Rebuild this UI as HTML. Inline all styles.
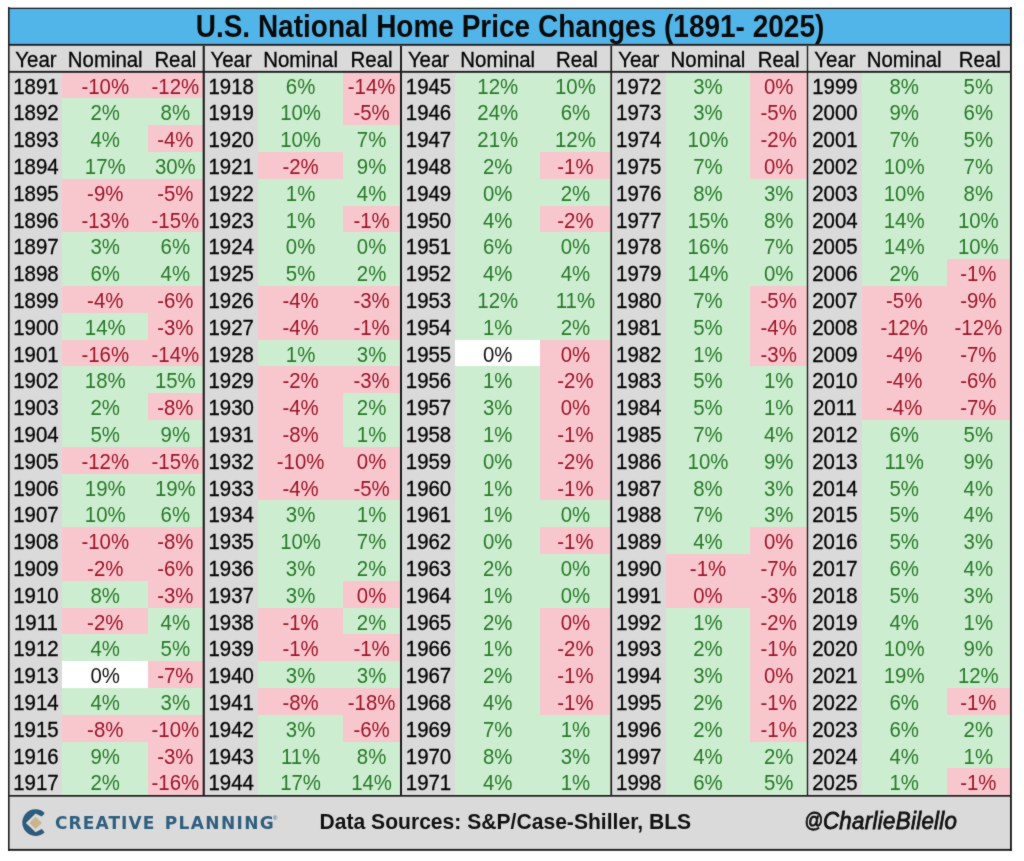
<!DOCTYPE html>
<html><head><meta charset="utf-8"><title>U.S. National Home Price Changes (1891- 2025)</title>
<style>
html,body{margin:0;padding:0;background:#fff}
body{width:1024px;height:861px;position:relative;overflow:hidden;font-family:"Liberation Sans",Arial,sans-serif}
#wrap{position:absolute;left:0;top:0;width:1024px;height:861px;filter:url(#soft)}
.b{position:absolute}
.k{-webkit-text-stroke-width:0.3px}
.t{position:absolute;text-align:center;white-space:nowrap;font-size:20.4px;line-height:20px;height:20px;color:#050505;transform:scaleY(1.065);transform-origin:50% 17.07px}
#bg{position:absolute;left:8px;top:8px;width:1004px;height:843px;background:#dadada}
#title{position:absolute;left:8px;top:9px;width:1004px;height:36px;background:#52b5e9}
#tt{position:absolute;left:8px;width:1004px;top:13.29px;text-align:center;font-weight:bold;font-size:28px;line-height:30px;height:30px;color:#0a0a0a;transform:scaleY(1.09);transform-origin:50% 24.71px;white-space:nowrap}
.ft{position:absolute;white-space:nowrap;line-height:24px;height:24px}
</style></head>
<body>
<svg width="0" height="0" style="position:absolute"><filter id="soft" x="0" y="0" width="100%" height="100%" color-interpolation-filters="sRGB"><feConvolveMatrix order="3" kernelMatrix="0.02 0.07 0.02 0.07 0.64 0.07 0.02 0.07 0.02" divisor="1" edgeMode="duplicate"/></filter></svg>
<div id="wrap">
<div id="bg"></div>
<div id="title"></div>
<div id="tt">U.S. National Home Price Changes (1891- 2025)</div>
<div class="b" style="left:62px;top:72px;width:86px;height:26px;background:#f8c7ce"></div>
<div class="b" style="left:148px;top:72px;width:55px;height:26px;background:#f8c7ce"></div>
<div class="b" style="left:62px;top:98px;width:86px;height:27px;background:#cdedd1"></div>
<div class="b" style="left:148px;top:98px;width:55px;height:27px;background:#cdedd1"></div>
<div class="b" style="left:62px;top:125px;width:86px;height:27px;background:#cdedd1"></div>
<div class="b" style="left:148px;top:125px;width:55px;height:27px;background:#f8c7ce"></div>
<div class="b" style="left:62px;top:152px;width:86px;height:27px;background:#cdedd1"></div>
<div class="b" style="left:148px;top:152px;width:55px;height:27px;background:#cdedd1"></div>
<div class="b" style="left:62px;top:179px;width:86px;height:27px;background:#f8c7ce"></div>
<div class="b" style="left:148px;top:179px;width:55px;height:27px;background:#f8c7ce"></div>
<div class="b" style="left:62px;top:206px;width:86px;height:26px;background:#f8c7ce"></div>
<div class="b" style="left:148px;top:206px;width:55px;height:26px;background:#f8c7ce"></div>
<div class="b" style="left:62px;top:232px;width:86px;height:27px;background:#cdedd1"></div>
<div class="b" style="left:148px;top:232px;width:55px;height:27px;background:#cdedd1"></div>
<div class="b" style="left:62px;top:259px;width:86px;height:27px;background:#cdedd1"></div>
<div class="b" style="left:148px;top:259px;width:55px;height:27px;background:#cdedd1"></div>
<div class="b" style="left:62px;top:286px;width:86px;height:27px;background:#f8c7ce"></div>
<div class="b" style="left:148px;top:286px;width:55px;height:27px;background:#f8c7ce"></div>
<div class="b" style="left:62px;top:313px;width:86px;height:27px;background:#cdedd1"></div>
<div class="b" style="left:148px;top:313px;width:55px;height:27px;background:#f8c7ce"></div>
<div class="b" style="left:62px;top:340px;width:86px;height:26px;background:#f8c7ce"></div>
<div class="b" style="left:148px;top:340px;width:55px;height:26px;background:#f8c7ce"></div>
<div class="b" style="left:62px;top:366px;width:86px;height:27px;background:#cdedd1"></div>
<div class="b" style="left:148px;top:366px;width:55px;height:27px;background:#cdedd1"></div>
<div class="b" style="left:62px;top:393px;width:86px;height:27px;background:#cdedd1"></div>
<div class="b" style="left:148px;top:393px;width:55px;height:27px;background:#f8c7ce"></div>
<div class="b" style="left:62px;top:420px;width:86px;height:27px;background:#cdedd1"></div>
<div class="b" style="left:148px;top:420px;width:55px;height:27px;background:#cdedd1"></div>
<div class="b" style="left:62px;top:447px;width:86px;height:27px;background:#f8c7ce"></div>
<div class="b" style="left:148px;top:447px;width:55px;height:27px;background:#f8c7ce"></div>
<div class="b" style="left:62px;top:474px;width:86px;height:26px;background:#cdedd1"></div>
<div class="b" style="left:148px;top:474px;width:55px;height:26px;background:#cdedd1"></div>
<div class="b" style="left:62px;top:500px;width:86px;height:27px;background:#cdedd1"></div>
<div class="b" style="left:148px;top:500px;width:55px;height:27px;background:#cdedd1"></div>
<div class="b" style="left:62px;top:527px;width:86px;height:27px;background:#f8c7ce"></div>
<div class="b" style="left:148px;top:527px;width:55px;height:27px;background:#f8c7ce"></div>
<div class="b" style="left:62px;top:554px;width:86px;height:27px;background:#f8c7ce"></div>
<div class="b" style="left:148px;top:554px;width:55px;height:27px;background:#f8c7ce"></div>
<div class="b" style="left:62px;top:581px;width:86px;height:27px;background:#cdedd1"></div>
<div class="b" style="left:148px;top:581px;width:55px;height:27px;background:#f8c7ce"></div>
<div class="b" style="left:62px;top:608px;width:86px;height:26px;background:#f8c7ce"></div>
<div class="b" style="left:148px;top:608px;width:55px;height:26px;background:#cdedd1"></div>
<div class="b" style="left:62px;top:634px;width:86px;height:27px;background:#cdedd1"></div>
<div class="b" style="left:148px;top:634px;width:55px;height:27px;background:#cdedd1"></div>
<div class="b" style="left:62px;top:661px;width:86px;height:27px;background:#ffffff"></div>
<div class="b" style="left:148px;top:661px;width:55px;height:27px;background:#f8c7ce"></div>
<div class="b" style="left:62px;top:688px;width:86px;height:27px;background:#cdedd1"></div>
<div class="b" style="left:148px;top:688px;width:55px;height:27px;background:#cdedd1"></div>
<div class="b" style="left:62px;top:715px;width:86px;height:27px;background:#f8c7ce"></div>
<div class="b" style="left:148px;top:715px;width:55px;height:27px;background:#f8c7ce"></div>
<div class="b" style="left:62px;top:742px;width:86px;height:26px;background:#cdedd1"></div>
<div class="b" style="left:148px;top:742px;width:55px;height:26px;background:#f8c7ce"></div>
<div class="b" style="left:62px;top:768px;width:86px;height:27px;background:#cdedd1"></div>
<div class="b" style="left:148px;top:768px;width:55px;height:27px;background:#f8c7ce"></div>
<div class="b" style="left:258px;top:72px;width:85px;height:26px;background:#cdedd1"></div>
<div class="b" style="left:343px;top:72px;width:57px;height:26px;background:#f8c7ce"></div>
<div class="b" style="left:258px;top:98px;width:85px;height:27px;background:#cdedd1"></div>
<div class="b" style="left:343px;top:98px;width:57px;height:27px;background:#f8c7ce"></div>
<div class="b" style="left:258px;top:125px;width:85px;height:27px;background:#cdedd1"></div>
<div class="b" style="left:343px;top:125px;width:57px;height:27px;background:#cdedd1"></div>
<div class="b" style="left:258px;top:152px;width:85px;height:27px;background:#f8c7ce"></div>
<div class="b" style="left:343px;top:152px;width:57px;height:27px;background:#cdedd1"></div>
<div class="b" style="left:258px;top:179px;width:85px;height:27px;background:#cdedd1"></div>
<div class="b" style="left:343px;top:179px;width:57px;height:27px;background:#cdedd1"></div>
<div class="b" style="left:258px;top:206px;width:85px;height:26px;background:#cdedd1"></div>
<div class="b" style="left:343px;top:206px;width:57px;height:26px;background:#f8c7ce"></div>
<div class="b" style="left:258px;top:232px;width:85px;height:27px;background:#cdedd1"></div>
<div class="b" style="left:343px;top:232px;width:57px;height:27px;background:#cdedd1"></div>
<div class="b" style="left:258px;top:259px;width:85px;height:27px;background:#cdedd1"></div>
<div class="b" style="left:343px;top:259px;width:57px;height:27px;background:#cdedd1"></div>
<div class="b" style="left:258px;top:286px;width:85px;height:27px;background:#f8c7ce"></div>
<div class="b" style="left:343px;top:286px;width:57px;height:27px;background:#f8c7ce"></div>
<div class="b" style="left:258px;top:313px;width:85px;height:27px;background:#f8c7ce"></div>
<div class="b" style="left:343px;top:313px;width:57px;height:27px;background:#f8c7ce"></div>
<div class="b" style="left:258px;top:340px;width:85px;height:26px;background:#cdedd1"></div>
<div class="b" style="left:343px;top:340px;width:57px;height:26px;background:#cdedd1"></div>
<div class="b" style="left:258px;top:366px;width:85px;height:27px;background:#f8c7ce"></div>
<div class="b" style="left:343px;top:366px;width:57px;height:27px;background:#f8c7ce"></div>
<div class="b" style="left:258px;top:393px;width:85px;height:27px;background:#f8c7ce"></div>
<div class="b" style="left:343px;top:393px;width:57px;height:27px;background:#cdedd1"></div>
<div class="b" style="left:258px;top:420px;width:85px;height:27px;background:#f8c7ce"></div>
<div class="b" style="left:343px;top:420px;width:57px;height:27px;background:#cdedd1"></div>
<div class="b" style="left:258px;top:447px;width:85px;height:27px;background:#f8c7ce"></div>
<div class="b" style="left:343px;top:447px;width:57px;height:27px;background:#f8c7ce"></div>
<div class="b" style="left:258px;top:474px;width:85px;height:26px;background:#f8c7ce"></div>
<div class="b" style="left:343px;top:474px;width:57px;height:26px;background:#f8c7ce"></div>
<div class="b" style="left:258px;top:500px;width:85px;height:27px;background:#cdedd1"></div>
<div class="b" style="left:343px;top:500px;width:57px;height:27px;background:#cdedd1"></div>
<div class="b" style="left:258px;top:527px;width:85px;height:27px;background:#cdedd1"></div>
<div class="b" style="left:343px;top:527px;width:57px;height:27px;background:#cdedd1"></div>
<div class="b" style="left:258px;top:554px;width:85px;height:27px;background:#cdedd1"></div>
<div class="b" style="left:343px;top:554px;width:57px;height:27px;background:#cdedd1"></div>
<div class="b" style="left:258px;top:581px;width:85px;height:27px;background:#cdedd1"></div>
<div class="b" style="left:343px;top:581px;width:57px;height:27px;background:#f8c7ce"></div>
<div class="b" style="left:258px;top:608px;width:85px;height:26px;background:#f8c7ce"></div>
<div class="b" style="left:343px;top:608px;width:57px;height:26px;background:#cdedd1"></div>
<div class="b" style="left:258px;top:634px;width:85px;height:27px;background:#f8c7ce"></div>
<div class="b" style="left:343px;top:634px;width:57px;height:27px;background:#f8c7ce"></div>
<div class="b" style="left:258px;top:661px;width:85px;height:27px;background:#cdedd1"></div>
<div class="b" style="left:343px;top:661px;width:57px;height:27px;background:#cdedd1"></div>
<div class="b" style="left:258px;top:688px;width:85px;height:27px;background:#f8c7ce"></div>
<div class="b" style="left:343px;top:688px;width:57px;height:27px;background:#f8c7ce"></div>
<div class="b" style="left:258px;top:715px;width:85px;height:27px;background:#cdedd1"></div>
<div class="b" style="left:343px;top:715px;width:57px;height:27px;background:#f8c7ce"></div>
<div class="b" style="left:258px;top:742px;width:85px;height:26px;background:#cdedd1"></div>
<div class="b" style="left:343px;top:742px;width:57px;height:26px;background:#cdedd1"></div>
<div class="b" style="left:258px;top:768px;width:85px;height:27px;background:#cdedd1"></div>
<div class="b" style="left:343px;top:768px;width:57px;height:27px;background:#cdedd1"></div>
<div class="b" style="left:455px;top:72px;width:85px;height:26px;background:#cdedd1"></div>
<div class="b" style="left:540px;top:72px;width:70px;height:26px;background:#cdedd1"></div>
<div class="b" style="left:455px;top:98px;width:85px;height:27px;background:#cdedd1"></div>
<div class="b" style="left:540px;top:98px;width:70px;height:27px;background:#cdedd1"></div>
<div class="b" style="left:455px;top:125px;width:85px;height:27px;background:#cdedd1"></div>
<div class="b" style="left:540px;top:125px;width:70px;height:27px;background:#cdedd1"></div>
<div class="b" style="left:455px;top:152px;width:85px;height:27px;background:#cdedd1"></div>
<div class="b" style="left:540px;top:152px;width:70px;height:27px;background:#f8c7ce"></div>
<div class="b" style="left:455px;top:179px;width:85px;height:27px;background:#cdedd1"></div>
<div class="b" style="left:540px;top:179px;width:70px;height:27px;background:#cdedd1"></div>
<div class="b" style="left:455px;top:206px;width:85px;height:26px;background:#cdedd1"></div>
<div class="b" style="left:540px;top:206px;width:70px;height:26px;background:#f8c7ce"></div>
<div class="b" style="left:455px;top:232px;width:85px;height:27px;background:#cdedd1"></div>
<div class="b" style="left:540px;top:232px;width:70px;height:27px;background:#cdedd1"></div>
<div class="b" style="left:455px;top:259px;width:85px;height:27px;background:#cdedd1"></div>
<div class="b" style="left:540px;top:259px;width:70px;height:27px;background:#cdedd1"></div>
<div class="b" style="left:455px;top:286px;width:85px;height:27px;background:#cdedd1"></div>
<div class="b" style="left:540px;top:286px;width:70px;height:27px;background:#cdedd1"></div>
<div class="b" style="left:455px;top:313px;width:85px;height:27px;background:#cdedd1"></div>
<div class="b" style="left:540px;top:313px;width:70px;height:27px;background:#cdedd1"></div>
<div class="b" style="left:455px;top:340px;width:85px;height:26px;background:#ffffff"></div>
<div class="b" style="left:540px;top:340px;width:70px;height:26px;background:#f8c7ce"></div>
<div class="b" style="left:455px;top:366px;width:85px;height:27px;background:#cdedd1"></div>
<div class="b" style="left:540px;top:366px;width:70px;height:27px;background:#f8c7ce"></div>
<div class="b" style="left:455px;top:393px;width:85px;height:27px;background:#cdedd1"></div>
<div class="b" style="left:540px;top:393px;width:70px;height:27px;background:#f8c7ce"></div>
<div class="b" style="left:455px;top:420px;width:85px;height:27px;background:#cdedd1"></div>
<div class="b" style="left:540px;top:420px;width:70px;height:27px;background:#f8c7ce"></div>
<div class="b" style="left:455px;top:447px;width:85px;height:27px;background:#cdedd1"></div>
<div class="b" style="left:540px;top:447px;width:70px;height:27px;background:#f8c7ce"></div>
<div class="b" style="left:455px;top:474px;width:85px;height:26px;background:#cdedd1"></div>
<div class="b" style="left:540px;top:474px;width:70px;height:26px;background:#f8c7ce"></div>
<div class="b" style="left:455px;top:500px;width:85px;height:27px;background:#cdedd1"></div>
<div class="b" style="left:540px;top:500px;width:70px;height:27px;background:#cdedd1"></div>
<div class="b" style="left:455px;top:527px;width:85px;height:27px;background:#cdedd1"></div>
<div class="b" style="left:540px;top:527px;width:70px;height:27px;background:#f8c7ce"></div>
<div class="b" style="left:455px;top:554px;width:85px;height:27px;background:#cdedd1"></div>
<div class="b" style="left:540px;top:554px;width:70px;height:27px;background:#cdedd1"></div>
<div class="b" style="left:455px;top:581px;width:85px;height:27px;background:#cdedd1"></div>
<div class="b" style="left:540px;top:581px;width:70px;height:27px;background:#cdedd1"></div>
<div class="b" style="left:455px;top:608px;width:85px;height:26px;background:#cdedd1"></div>
<div class="b" style="left:540px;top:608px;width:70px;height:26px;background:#f8c7ce"></div>
<div class="b" style="left:455px;top:634px;width:85px;height:27px;background:#cdedd1"></div>
<div class="b" style="left:540px;top:634px;width:70px;height:27px;background:#f8c7ce"></div>
<div class="b" style="left:455px;top:661px;width:85px;height:27px;background:#cdedd1"></div>
<div class="b" style="left:540px;top:661px;width:70px;height:27px;background:#f8c7ce"></div>
<div class="b" style="left:455px;top:688px;width:85px;height:27px;background:#cdedd1"></div>
<div class="b" style="left:540px;top:688px;width:70px;height:27px;background:#f8c7ce"></div>
<div class="b" style="left:455px;top:715px;width:85px;height:27px;background:#cdedd1"></div>
<div class="b" style="left:540px;top:715px;width:70px;height:27px;background:#cdedd1"></div>
<div class="b" style="left:455px;top:742px;width:85px;height:26px;background:#cdedd1"></div>
<div class="b" style="left:540px;top:742px;width:70px;height:26px;background:#cdedd1"></div>
<div class="b" style="left:455px;top:768px;width:85px;height:27px;background:#cdedd1"></div>
<div class="b" style="left:540px;top:768px;width:70px;height:27px;background:#cdedd1"></div>
<div class="b" style="left:666px;top:72px;width:84px;height:26px;background:#cdedd1"></div>
<div class="b" style="left:750px;top:72px;width:57px;height:26px;background:#f8c7ce"></div>
<div class="b" style="left:666px;top:98px;width:84px;height:27px;background:#cdedd1"></div>
<div class="b" style="left:750px;top:98px;width:57px;height:27px;background:#f8c7ce"></div>
<div class="b" style="left:666px;top:125px;width:84px;height:27px;background:#cdedd1"></div>
<div class="b" style="left:750px;top:125px;width:57px;height:27px;background:#f8c7ce"></div>
<div class="b" style="left:666px;top:152px;width:84px;height:27px;background:#cdedd1"></div>
<div class="b" style="left:750px;top:152px;width:57px;height:27px;background:#f8c7ce"></div>
<div class="b" style="left:666px;top:179px;width:84px;height:27px;background:#cdedd1"></div>
<div class="b" style="left:750px;top:179px;width:57px;height:27px;background:#cdedd1"></div>
<div class="b" style="left:666px;top:206px;width:84px;height:26px;background:#cdedd1"></div>
<div class="b" style="left:750px;top:206px;width:57px;height:26px;background:#cdedd1"></div>
<div class="b" style="left:666px;top:232px;width:84px;height:27px;background:#cdedd1"></div>
<div class="b" style="left:750px;top:232px;width:57px;height:27px;background:#cdedd1"></div>
<div class="b" style="left:666px;top:259px;width:84px;height:27px;background:#cdedd1"></div>
<div class="b" style="left:750px;top:259px;width:57px;height:27px;background:#cdedd1"></div>
<div class="b" style="left:666px;top:286px;width:84px;height:27px;background:#cdedd1"></div>
<div class="b" style="left:750px;top:286px;width:57px;height:27px;background:#f8c7ce"></div>
<div class="b" style="left:666px;top:313px;width:84px;height:27px;background:#cdedd1"></div>
<div class="b" style="left:750px;top:313px;width:57px;height:27px;background:#f8c7ce"></div>
<div class="b" style="left:666px;top:340px;width:84px;height:26px;background:#cdedd1"></div>
<div class="b" style="left:750px;top:340px;width:57px;height:26px;background:#f8c7ce"></div>
<div class="b" style="left:666px;top:366px;width:84px;height:27px;background:#cdedd1"></div>
<div class="b" style="left:750px;top:366px;width:57px;height:27px;background:#cdedd1"></div>
<div class="b" style="left:666px;top:393px;width:84px;height:27px;background:#cdedd1"></div>
<div class="b" style="left:750px;top:393px;width:57px;height:27px;background:#cdedd1"></div>
<div class="b" style="left:666px;top:420px;width:84px;height:27px;background:#cdedd1"></div>
<div class="b" style="left:750px;top:420px;width:57px;height:27px;background:#cdedd1"></div>
<div class="b" style="left:666px;top:447px;width:84px;height:27px;background:#cdedd1"></div>
<div class="b" style="left:750px;top:447px;width:57px;height:27px;background:#cdedd1"></div>
<div class="b" style="left:666px;top:474px;width:84px;height:26px;background:#cdedd1"></div>
<div class="b" style="left:750px;top:474px;width:57px;height:26px;background:#cdedd1"></div>
<div class="b" style="left:666px;top:500px;width:84px;height:27px;background:#cdedd1"></div>
<div class="b" style="left:750px;top:500px;width:57px;height:27px;background:#cdedd1"></div>
<div class="b" style="left:666px;top:527px;width:84px;height:27px;background:#cdedd1"></div>
<div class="b" style="left:750px;top:527px;width:57px;height:27px;background:#f8c7ce"></div>
<div class="b" style="left:666px;top:554px;width:84px;height:27px;background:#f8c7ce"></div>
<div class="b" style="left:750px;top:554px;width:57px;height:27px;background:#f8c7ce"></div>
<div class="b" style="left:666px;top:581px;width:84px;height:27px;background:#f8c7ce"></div>
<div class="b" style="left:750px;top:581px;width:57px;height:27px;background:#f8c7ce"></div>
<div class="b" style="left:666px;top:608px;width:84px;height:26px;background:#cdedd1"></div>
<div class="b" style="left:750px;top:608px;width:57px;height:26px;background:#f8c7ce"></div>
<div class="b" style="left:666px;top:634px;width:84px;height:27px;background:#cdedd1"></div>
<div class="b" style="left:750px;top:634px;width:57px;height:27px;background:#f8c7ce"></div>
<div class="b" style="left:666px;top:661px;width:84px;height:27px;background:#cdedd1"></div>
<div class="b" style="left:750px;top:661px;width:57px;height:27px;background:#f8c7ce"></div>
<div class="b" style="left:666px;top:688px;width:84px;height:27px;background:#cdedd1"></div>
<div class="b" style="left:750px;top:688px;width:57px;height:27px;background:#f8c7ce"></div>
<div class="b" style="left:666px;top:715px;width:84px;height:27px;background:#cdedd1"></div>
<div class="b" style="left:750px;top:715px;width:57px;height:27px;background:#f8c7ce"></div>
<div class="b" style="left:666px;top:742px;width:84px;height:26px;background:#cdedd1"></div>
<div class="b" style="left:750px;top:742px;width:57px;height:26px;background:#cdedd1"></div>
<div class="b" style="left:666px;top:768px;width:84px;height:27px;background:#cdedd1"></div>
<div class="b" style="left:750px;top:768px;width:57px;height:27px;background:#cdedd1"></div>
<div class="b" style="left:862px;top:72px;width:85px;height:26px;background:#cdedd1"></div>
<div class="b" style="left:947px;top:72px;width:63px;height:26px;background:#cdedd1"></div>
<div class="b" style="left:862px;top:98px;width:85px;height:27px;background:#cdedd1"></div>
<div class="b" style="left:947px;top:98px;width:63px;height:27px;background:#cdedd1"></div>
<div class="b" style="left:862px;top:125px;width:85px;height:27px;background:#cdedd1"></div>
<div class="b" style="left:947px;top:125px;width:63px;height:27px;background:#cdedd1"></div>
<div class="b" style="left:862px;top:152px;width:85px;height:27px;background:#cdedd1"></div>
<div class="b" style="left:947px;top:152px;width:63px;height:27px;background:#cdedd1"></div>
<div class="b" style="left:862px;top:179px;width:85px;height:27px;background:#cdedd1"></div>
<div class="b" style="left:947px;top:179px;width:63px;height:27px;background:#cdedd1"></div>
<div class="b" style="left:862px;top:206px;width:85px;height:26px;background:#cdedd1"></div>
<div class="b" style="left:947px;top:206px;width:63px;height:26px;background:#cdedd1"></div>
<div class="b" style="left:862px;top:232px;width:85px;height:27px;background:#cdedd1"></div>
<div class="b" style="left:947px;top:232px;width:63px;height:27px;background:#cdedd1"></div>
<div class="b" style="left:862px;top:259px;width:85px;height:27px;background:#cdedd1"></div>
<div class="b" style="left:947px;top:259px;width:63px;height:27px;background:#f8c7ce"></div>
<div class="b" style="left:862px;top:286px;width:85px;height:27px;background:#f8c7ce"></div>
<div class="b" style="left:947px;top:286px;width:63px;height:27px;background:#f8c7ce"></div>
<div class="b" style="left:862px;top:313px;width:85px;height:27px;background:#f8c7ce"></div>
<div class="b" style="left:947px;top:313px;width:63px;height:27px;background:#f8c7ce"></div>
<div class="b" style="left:862px;top:340px;width:85px;height:26px;background:#f8c7ce"></div>
<div class="b" style="left:947px;top:340px;width:63px;height:26px;background:#f8c7ce"></div>
<div class="b" style="left:862px;top:366px;width:85px;height:27px;background:#f8c7ce"></div>
<div class="b" style="left:947px;top:366px;width:63px;height:27px;background:#f8c7ce"></div>
<div class="b" style="left:862px;top:393px;width:85px;height:27px;background:#f8c7ce"></div>
<div class="b" style="left:947px;top:393px;width:63px;height:27px;background:#f8c7ce"></div>
<div class="b" style="left:862px;top:420px;width:85px;height:27px;background:#cdedd1"></div>
<div class="b" style="left:947px;top:420px;width:63px;height:27px;background:#cdedd1"></div>
<div class="b" style="left:862px;top:447px;width:85px;height:27px;background:#cdedd1"></div>
<div class="b" style="left:947px;top:447px;width:63px;height:27px;background:#cdedd1"></div>
<div class="b" style="left:862px;top:474px;width:85px;height:26px;background:#cdedd1"></div>
<div class="b" style="left:947px;top:474px;width:63px;height:26px;background:#cdedd1"></div>
<div class="b" style="left:862px;top:500px;width:85px;height:27px;background:#cdedd1"></div>
<div class="b" style="left:947px;top:500px;width:63px;height:27px;background:#cdedd1"></div>
<div class="b" style="left:862px;top:527px;width:85px;height:27px;background:#cdedd1"></div>
<div class="b" style="left:947px;top:527px;width:63px;height:27px;background:#cdedd1"></div>
<div class="b" style="left:862px;top:554px;width:85px;height:27px;background:#cdedd1"></div>
<div class="b" style="left:947px;top:554px;width:63px;height:27px;background:#cdedd1"></div>
<div class="b" style="left:862px;top:581px;width:85px;height:27px;background:#cdedd1"></div>
<div class="b" style="left:947px;top:581px;width:63px;height:27px;background:#cdedd1"></div>
<div class="b" style="left:862px;top:608px;width:85px;height:26px;background:#cdedd1"></div>
<div class="b" style="left:947px;top:608px;width:63px;height:26px;background:#cdedd1"></div>
<div class="b" style="left:862px;top:634px;width:85px;height:27px;background:#cdedd1"></div>
<div class="b" style="left:947px;top:634px;width:63px;height:27px;background:#cdedd1"></div>
<div class="b" style="left:862px;top:661px;width:85px;height:27px;background:#cdedd1"></div>
<div class="b" style="left:947px;top:661px;width:63px;height:27px;background:#cdedd1"></div>
<div class="b" style="left:862px;top:688px;width:85px;height:27px;background:#cdedd1"></div>
<div class="b" style="left:947px;top:688px;width:63px;height:27px;background:#f8c7ce"></div>
<div class="b" style="left:862px;top:715px;width:85px;height:27px;background:#cdedd1"></div>
<div class="b" style="left:947px;top:715px;width:63px;height:27px;background:#cdedd1"></div>
<div class="b" style="left:862px;top:742px;width:85px;height:26px;background:#cdedd1"></div>
<div class="b" style="left:947px;top:742px;width:63px;height:26px;background:#cdedd1"></div>
<div class="b" style="left:862px;top:768px;width:85px;height:27px;background:#cdedd1"></div>
<div class="b" style="left:947px;top:768px;width:63px;height:27px;background:#f8c7ce"></div>
<div class="t k" style="left:9.4px;top:49.53px;width:53.1px">Year</div>
<div class="t k" style="left:62.5px;top:49.53px;width:85.5px">Nominal</div>
<div class="t k" style="left:148.0px;top:49.53px;width:54.7px">Real</div>
<div class="t k" style="left:9.4px;top:76.58px;width:53.1px">1891</div>
<div class="t" style="left:62.5px;top:76.58px;width:85.5px;color:#9c1528">-10%</div>
<div class="t" style="left:148.0px;top:76.58px;width:54.7px;color:#9c1528">-12%</div>
<div class="t k" style="left:9.4px;top:103.38px;width:53.1px">1892</div>
<div class="t" style="left:62.5px;top:103.38px;width:85.5px;color:#287a28">2%</div>
<div class="t" style="left:148.0px;top:103.38px;width:54.7px;color:#287a28">8%</div>
<div class="t k" style="left:9.4px;top:130.18px;width:53.1px">1893</div>
<div class="t" style="left:62.5px;top:130.18px;width:85.5px;color:#287a28">4%</div>
<div class="t" style="left:148.0px;top:130.18px;width:54.7px;color:#9c1528">-4%</div>
<div class="t k" style="left:9.4px;top:156.98px;width:53.1px">1894</div>
<div class="t" style="left:62.5px;top:156.98px;width:85.5px;color:#287a28">17%</div>
<div class="t" style="left:148.0px;top:156.98px;width:54.7px;color:#287a28">30%</div>
<div class="t k" style="left:9.4px;top:183.78px;width:53.1px">1895</div>
<div class="t" style="left:62.5px;top:183.78px;width:85.5px;color:#9c1528">-9%</div>
<div class="t" style="left:148.0px;top:183.78px;width:54.7px;color:#9c1528">-5%</div>
<div class="t k" style="left:9.4px;top:210.58px;width:53.1px">1896</div>
<div class="t" style="left:62.5px;top:210.58px;width:85.5px;color:#9c1528">-13%</div>
<div class="t" style="left:148.0px;top:210.58px;width:54.7px;color:#9c1528">-15%</div>
<div class="t k" style="left:9.4px;top:237.38px;width:53.1px">1897</div>
<div class="t" style="left:62.5px;top:237.38px;width:85.5px;color:#287a28">3%</div>
<div class="t" style="left:148.0px;top:237.38px;width:54.7px;color:#287a28">6%</div>
<div class="t k" style="left:9.4px;top:264.18px;width:53.1px">1898</div>
<div class="t" style="left:62.5px;top:264.18px;width:85.5px;color:#287a28">6%</div>
<div class="t" style="left:148.0px;top:264.18px;width:54.7px;color:#287a28">4%</div>
<div class="t k" style="left:9.4px;top:290.98px;width:53.1px">1899</div>
<div class="t" style="left:62.5px;top:290.98px;width:85.5px;color:#9c1528">-4%</div>
<div class="t" style="left:148.0px;top:290.98px;width:54.7px;color:#9c1528">-6%</div>
<div class="t k" style="left:9.4px;top:317.78px;width:53.1px">1900</div>
<div class="t" style="left:62.5px;top:317.78px;width:85.5px;color:#287a28">14%</div>
<div class="t" style="left:148.0px;top:317.78px;width:54.7px;color:#9c1528">-3%</div>
<div class="t k" style="left:9.4px;top:344.58px;width:53.1px">1901</div>
<div class="t" style="left:62.5px;top:344.58px;width:85.5px;color:#9c1528">-16%</div>
<div class="t" style="left:148.0px;top:344.58px;width:54.7px;color:#9c1528">-14%</div>
<div class="t k" style="left:9.4px;top:371.38px;width:53.1px">1902</div>
<div class="t" style="left:62.5px;top:371.38px;width:85.5px;color:#287a28">18%</div>
<div class="t" style="left:148.0px;top:371.38px;width:54.7px;color:#287a28">15%</div>
<div class="t k" style="left:9.4px;top:398.18px;width:53.1px">1903</div>
<div class="t" style="left:62.5px;top:398.18px;width:85.5px;color:#287a28">2%</div>
<div class="t" style="left:148.0px;top:398.18px;width:54.7px;color:#9c1528">-8%</div>
<div class="t k" style="left:9.4px;top:424.98px;width:53.1px">1904</div>
<div class="t" style="left:62.5px;top:424.98px;width:85.5px;color:#287a28">5%</div>
<div class="t" style="left:148.0px;top:424.98px;width:54.7px;color:#287a28">9%</div>
<div class="t k" style="left:9.4px;top:451.78px;width:53.1px">1905</div>
<div class="t" style="left:62.5px;top:451.78px;width:85.5px;color:#9c1528">-12%</div>
<div class="t" style="left:148.0px;top:451.78px;width:54.7px;color:#9c1528">-15%</div>
<div class="t k" style="left:9.4px;top:478.58px;width:53.1px">1906</div>
<div class="t" style="left:62.5px;top:478.58px;width:85.5px;color:#287a28">19%</div>
<div class="t" style="left:148.0px;top:478.58px;width:54.7px;color:#287a28">19%</div>
<div class="t k" style="left:9.4px;top:505.38px;width:53.1px">1907</div>
<div class="t" style="left:62.5px;top:505.38px;width:85.5px;color:#287a28">10%</div>
<div class="t" style="left:148.0px;top:505.38px;width:54.7px;color:#287a28">6%</div>
<div class="t k" style="left:9.4px;top:532.18px;width:53.1px">1908</div>
<div class="t" style="left:62.5px;top:532.18px;width:85.5px;color:#9c1528">-10%</div>
<div class="t" style="left:148.0px;top:532.18px;width:54.7px;color:#9c1528">-8%</div>
<div class="t k" style="left:9.4px;top:558.98px;width:53.1px">1909</div>
<div class="t" style="left:62.5px;top:558.98px;width:85.5px;color:#9c1528">-2%</div>
<div class="t" style="left:148.0px;top:558.98px;width:54.7px;color:#9c1528">-6%</div>
<div class="t k" style="left:9.4px;top:585.78px;width:53.1px">1910</div>
<div class="t" style="left:62.5px;top:585.78px;width:85.5px;color:#287a28">8%</div>
<div class="t" style="left:148.0px;top:585.78px;width:54.7px;color:#9c1528">-3%</div>
<div class="t k" style="left:9.4px;top:612.58px;width:53.1px">1911</div>
<div class="t" style="left:62.5px;top:612.58px;width:85.5px;color:#9c1528">-2%</div>
<div class="t" style="left:148.0px;top:612.58px;width:54.7px;color:#287a28">4%</div>
<div class="t k" style="left:9.4px;top:639.38px;width:53.1px">1912</div>
<div class="t" style="left:62.5px;top:639.38px;width:85.5px;color:#287a28">4%</div>
<div class="t" style="left:148.0px;top:639.38px;width:54.7px;color:#287a28">5%</div>
<div class="t k" style="left:9.4px;top:666.18px;width:53.1px">1913</div>
<div class="t" style="left:62.5px;top:666.18px;width:85.5px;color:#111">0%</div>
<div class="t" style="left:148.0px;top:666.18px;width:54.7px;color:#9c1528">-7%</div>
<div class="t k" style="left:9.4px;top:692.98px;width:53.1px">1914</div>
<div class="t" style="left:62.5px;top:692.98px;width:85.5px;color:#287a28">4%</div>
<div class="t" style="left:148.0px;top:692.98px;width:54.7px;color:#287a28">3%</div>
<div class="t k" style="left:9.4px;top:719.78px;width:53.1px">1915</div>
<div class="t" style="left:62.5px;top:719.78px;width:85.5px;color:#9c1528">-8%</div>
<div class="t" style="left:148.0px;top:719.78px;width:54.7px;color:#9c1528">-10%</div>
<div class="t k" style="left:9.4px;top:746.58px;width:53.1px">1916</div>
<div class="t" style="left:62.5px;top:746.58px;width:85.5px;color:#287a28">9%</div>
<div class="t" style="left:148.0px;top:746.58px;width:54.7px;color:#9c1528">-3%</div>
<div class="t k" style="left:9.4px;top:773.38px;width:53.1px">1917</div>
<div class="t" style="left:62.5px;top:773.38px;width:85.5px;color:#287a28">2%</div>
<div class="t" style="left:148.0px;top:773.38px;width:54.7px;color:#9c1528">-16%</div>
<div class="t k" style="left:204.3px;top:49.53px;width:53.7px">Year</div>
<div class="t k" style="left:258.0px;top:49.53px;width:85.2px">Nominal</div>
<div class="t k" style="left:343.2px;top:49.53px;width:56.8px">Real</div>
<div class="t k" style="left:204.3px;top:76.58px;width:53.7px">1918</div>
<div class="t" style="left:258.0px;top:76.58px;width:85.2px;color:#287a28">6%</div>
<div class="t" style="left:343.2px;top:76.58px;width:56.8px;color:#9c1528">-14%</div>
<div class="t k" style="left:204.3px;top:103.38px;width:53.7px">1919</div>
<div class="t" style="left:258.0px;top:103.38px;width:85.2px;color:#287a28">10%</div>
<div class="t" style="left:343.2px;top:103.38px;width:56.8px;color:#9c1528">-5%</div>
<div class="t k" style="left:204.3px;top:130.18px;width:53.7px">1920</div>
<div class="t" style="left:258.0px;top:130.18px;width:85.2px;color:#287a28">10%</div>
<div class="t" style="left:343.2px;top:130.18px;width:56.8px;color:#287a28">7%</div>
<div class="t k" style="left:204.3px;top:156.98px;width:53.7px">1921</div>
<div class="t" style="left:258.0px;top:156.98px;width:85.2px;color:#9c1528">-2%</div>
<div class="t" style="left:343.2px;top:156.98px;width:56.8px;color:#287a28">9%</div>
<div class="t k" style="left:204.3px;top:183.78px;width:53.7px">1922</div>
<div class="t" style="left:258.0px;top:183.78px;width:85.2px;color:#287a28">1%</div>
<div class="t" style="left:343.2px;top:183.78px;width:56.8px;color:#287a28">4%</div>
<div class="t k" style="left:204.3px;top:210.58px;width:53.7px">1923</div>
<div class="t" style="left:258.0px;top:210.58px;width:85.2px;color:#287a28">1%</div>
<div class="t" style="left:343.2px;top:210.58px;width:56.8px;color:#9c1528">-1%</div>
<div class="t k" style="left:204.3px;top:237.38px;width:53.7px">1924</div>
<div class="t" style="left:258.0px;top:237.38px;width:85.2px;color:#287a28">0%</div>
<div class="t" style="left:343.2px;top:237.38px;width:56.8px;color:#287a28">0%</div>
<div class="t k" style="left:204.3px;top:264.18px;width:53.7px">1925</div>
<div class="t" style="left:258.0px;top:264.18px;width:85.2px;color:#287a28">5%</div>
<div class="t" style="left:343.2px;top:264.18px;width:56.8px;color:#287a28">2%</div>
<div class="t k" style="left:204.3px;top:290.98px;width:53.7px">1926</div>
<div class="t" style="left:258.0px;top:290.98px;width:85.2px;color:#9c1528">-4%</div>
<div class="t" style="left:343.2px;top:290.98px;width:56.8px;color:#9c1528">-3%</div>
<div class="t k" style="left:204.3px;top:317.78px;width:53.7px">1927</div>
<div class="t" style="left:258.0px;top:317.78px;width:85.2px;color:#9c1528">-4%</div>
<div class="t" style="left:343.2px;top:317.78px;width:56.8px;color:#9c1528">-1%</div>
<div class="t k" style="left:204.3px;top:344.58px;width:53.7px">1928</div>
<div class="t" style="left:258.0px;top:344.58px;width:85.2px;color:#287a28">1%</div>
<div class="t" style="left:343.2px;top:344.58px;width:56.8px;color:#287a28">3%</div>
<div class="t k" style="left:204.3px;top:371.38px;width:53.7px">1929</div>
<div class="t" style="left:258.0px;top:371.38px;width:85.2px;color:#9c1528">-2%</div>
<div class="t" style="left:343.2px;top:371.38px;width:56.8px;color:#9c1528">-3%</div>
<div class="t k" style="left:204.3px;top:398.18px;width:53.7px">1930</div>
<div class="t" style="left:258.0px;top:398.18px;width:85.2px;color:#9c1528">-4%</div>
<div class="t" style="left:343.2px;top:398.18px;width:56.8px;color:#287a28">2%</div>
<div class="t k" style="left:204.3px;top:424.98px;width:53.7px">1931</div>
<div class="t" style="left:258.0px;top:424.98px;width:85.2px;color:#9c1528">-8%</div>
<div class="t" style="left:343.2px;top:424.98px;width:56.8px;color:#287a28">1%</div>
<div class="t k" style="left:204.3px;top:451.78px;width:53.7px">1932</div>
<div class="t" style="left:258.0px;top:451.78px;width:85.2px;color:#9c1528">-10%</div>
<div class="t" style="left:343.2px;top:451.78px;width:56.8px;color:#9c1528">0%</div>
<div class="t k" style="left:204.3px;top:478.58px;width:53.7px">1933</div>
<div class="t" style="left:258.0px;top:478.58px;width:85.2px;color:#9c1528">-4%</div>
<div class="t" style="left:343.2px;top:478.58px;width:56.8px;color:#9c1528">-5%</div>
<div class="t k" style="left:204.3px;top:505.38px;width:53.7px">1934</div>
<div class="t" style="left:258.0px;top:505.38px;width:85.2px;color:#287a28">3%</div>
<div class="t" style="left:343.2px;top:505.38px;width:56.8px;color:#287a28">1%</div>
<div class="t k" style="left:204.3px;top:532.18px;width:53.7px">1935</div>
<div class="t" style="left:258.0px;top:532.18px;width:85.2px;color:#287a28">10%</div>
<div class="t" style="left:343.2px;top:532.18px;width:56.8px;color:#287a28">7%</div>
<div class="t k" style="left:204.3px;top:558.98px;width:53.7px">1936</div>
<div class="t" style="left:258.0px;top:558.98px;width:85.2px;color:#287a28">3%</div>
<div class="t" style="left:343.2px;top:558.98px;width:56.8px;color:#287a28">2%</div>
<div class="t k" style="left:204.3px;top:585.78px;width:53.7px">1937</div>
<div class="t" style="left:258.0px;top:585.78px;width:85.2px;color:#287a28">3%</div>
<div class="t" style="left:343.2px;top:585.78px;width:56.8px;color:#9c1528">0%</div>
<div class="t k" style="left:204.3px;top:612.58px;width:53.7px">1938</div>
<div class="t" style="left:258.0px;top:612.58px;width:85.2px;color:#9c1528">-1%</div>
<div class="t" style="left:343.2px;top:612.58px;width:56.8px;color:#287a28">2%</div>
<div class="t k" style="left:204.3px;top:639.38px;width:53.7px">1939</div>
<div class="t" style="left:258.0px;top:639.38px;width:85.2px;color:#9c1528">-1%</div>
<div class="t" style="left:343.2px;top:639.38px;width:56.8px;color:#9c1528">-1%</div>
<div class="t k" style="left:204.3px;top:666.18px;width:53.7px">1940</div>
<div class="t" style="left:258.0px;top:666.18px;width:85.2px;color:#287a28">3%</div>
<div class="t" style="left:343.2px;top:666.18px;width:56.8px;color:#287a28">3%</div>
<div class="t k" style="left:204.3px;top:692.98px;width:53.7px">1941</div>
<div class="t" style="left:258.0px;top:692.98px;width:85.2px;color:#9c1528">-8%</div>
<div class="t" style="left:343.2px;top:692.98px;width:56.8px;color:#9c1528">-18%</div>
<div class="t k" style="left:204.3px;top:719.78px;width:53.7px">1942</div>
<div class="t" style="left:258.0px;top:719.78px;width:85.2px;color:#287a28">3%</div>
<div class="t" style="left:343.2px;top:719.78px;width:56.8px;color:#9c1528">-6%</div>
<div class="t k" style="left:204.3px;top:746.58px;width:53.7px">1943</div>
<div class="t" style="left:258.0px;top:746.58px;width:85.2px;color:#287a28">11%</div>
<div class="t" style="left:343.2px;top:746.58px;width:56.8px;color:#287a28">8%</div>
<div class="t k" style="left:204.3px;top:773.38px;width:53.7px">1944</div>
<div class="t" style="left:258.0px;top:773.38px;width:85.2px;color:#287a28">17%</div>
<div class="t" style="left:343.2px;top:773.38px;width:56.8px;color:#287a28">14%</div>
<div class="t k" style="left:402.0px;top:49.53px;width:53.0px">Year</div>
<div class="t k" style="left:455.0px;top:49.53px;width:85.5px">Nominal</div>
<div class="t k" style="left:542.5px;top:49.53px;width:68.9px">Real</div>
<div class="t k" style="left:402.0px;top:76.58px;width:53.0px">1945</div>
<div class="t" style="left:455.0px;top:76.58px;width:85.5px;color:#287a28">12%</div>
<div class="t" style="left:540.5px;top:76.58px;width:69.9px;color:#287a28">10%</div>
<div class="t k" style="left:402.0px;top:103.38px;width:53.0px">1946</div>
<div class="t" style="left:455.0px;top:103.38px;width:85.5px;color:#287a28">24%</div>
<div class="t" style="left:540.5px;top:103.38px;width:69.9px;color:#287a28">6%</div>
<div class="t k" style="left:402.0px;top:130.18px;width:53.0px">1947</div>
<div class="t" style="left:455.0px;top:130.18px;width:85.5px;color:#287a28">21%</div>
<div class="t" style="left:540.5px;top:130.18px;width:69.9px;color:#287a28">12%</div>
<div class="t k" style="left:402.0px;top:156.98px;width:53.0px">1948</div>
<div class="t" style="left:455.0px;top:156.98px;width:85.5px;color:#287a28">2%</div>
<div class="t" style="left:540.5px;top:156.98px;width:69.9px;color:#9c1528">-1%</div>
<div class="t k" style="left:402.0px;top:183.78px;width:53.0px">1949</div>
<div class="t" style="left:455.0px;top:183.78px;width:85.5px;color:#287a28">0%</div>
<div class="t" style="left:540.5px;top:183.78px;width:69.9px;color:#287a28">2%</div>
<div class="t k" style="left:402.0px;top:210.58px;width:53.0px">1950</div>
<div class="t" style="left:455.0px;top:210.58px;width:85.5px;color:#287a28">4%</div>
<div class="t" style="left:540.5px;top:210.58px;width:69.9px;color:#9c1528">-2%</div>
<div class="t k" style="left:402.0px;top:237.38px;width:53.0px">1951</div>
<div class="t" style="left:455.0px;top:237.38px;width:85.5px;color:#287a28">6%</div>
<div class="t" style="left:540.5px;top:237.38px;width:69.9px;color:#287a28">0%</div>
<div class="t k" style="left:402.0px;top:264.18px;width:53.0px">1952</div>
<div class="t" style="left:455.0px;top:264.18px;width:85.5px;color:#287a28">4%</div>
<div class="t" style="left:540.5px;top:264.18px;width:69.9px;color:#287a28">4%</div>
<div class="t k" style="left:402.0px;top:290.98px;width:53.0px">1953</div>
<div class="t" style="left:455.0px;top:290.98px;width:85.5px;color:#287a28">12%</div>
<div class="t" style="left:540.5px;top:290.98px;width:69.9px;color:#287a28">11%</div>
<div class="t k" style="left:402.0px;top:317.78px;width:53.0px">1954</div>
<div class="t" style="left:455.0px;top:317.78px;width:85.5px;color:#287a28">1%</div>
<div class="t" style="left:540.5px;top:317.78px;width:69.9px;color:#287a28">2%</div>
<div class="t k" style="left:402.0px;top:344.58px;width:53.0px">1955</div>
<div class="t" style="left:455.0px;top:344.58px;width:85.5px;color:#111">0%</div>
<div class="t" style="left:540.5px;top:344.58px;width:69.9px;color:#9c1528">0%</div>
<div class="t k" style="left:402.0px;top:371.38px;width:53.0px">1956</div>
<div class="t" style="left:455.0px;top:371.38px;width:85.5px;color:#287a28">1%</div>
<div class="t" style="left:540.5px;top:371.38px;width:69.9px;color:#9c1528">-2%</div>
<div class="t k" style="left:402.0px;top:398.18px;width:53.0px">1957</div>
<div class="t" style="left:455.0px;top:398.18px;width:85.5px;color:#287a28">3%</div>
<div class="t" style="left:540.5px;top:398.18px;width:69.9px;color:#9c1528">0%</div>
<div class="t k" style="left:402.0px;top:424.98px;width:53.0px">1958</div>
<div class="t" style="left:455.0px;top:424.98px;width:85.5px;color:#287a28">1%</div>
<div class="t" style="left:540.5px;top:424.98px;width:69.9px;color:#9c1528">-1%</div>
<div class="t k" style="left:402.0px;top:451.78px;width:53.0px">1959</div>
<div class="t" style="left:455.0px;top:451.78px;width:85.5px;color:#287a28">0%</div>
<div class="t" style="left:540.5px;top:451.78px;width:69.9px;color:#9c1528">-2%</div>
<div class="t k" style="left:402.0px;top:478.58px;width:53.0px">1960</div>
<div class="t" style="left:455.0px;top:478.58px;width:85.5px;color:#287a28">1%</div>
<div class="t" style="left:540.5px;top:478.58px;width:69.9px;color:#9c1528">-1%</div>
<div class="t k" style="left:402.0px;top:505.38px;width:53.0px">1961</div>
<div class="t" style="left:455.0px;top:505.38px;width:85.5px;color:#287a28">1%</div>
<div class="t" style="left:540.5px;top:505.38px;width:69.9px;color:#287a28">0%</div>
<div class="t k" style="left:402.0px;top:532.18px;width:53.0px">1962</div>
<div class="t" style="left:455.0px;top:532.18px;width:85.5px;color:#287a28">0%</div>
<div class="t" style="left:540.5px;top:532.18px;width:69.9px;color:#9c1528">-1%</div>
<div class="t k" style="left:402.0px;top:558.98px;width:53.0px">1963</div>
<div class="t" style="left:455.0px;top:558.98px;width:85.5px;color:#287a28">2%</div>
<div class="t" style="left:540.5px;top:558.98px;width:69.9px;color:#287a28">0%</div>
<div class="t k" style="left:402.0px;top:585.78px;width:53.0px">1964</div>
<div class="t" style="left:455.0px;top:585.78px;width:85.5px;color:#287a28">1%</div>
<div class="t" style="left:540.5px;top:585.78px;width:69.9px;color:#287a28">0%</div>
<div class="t k" style="left:402.0px;top:612.58px;width:53.0px">1965</div>
<div class="t" style="left:455.0px;top:612.58px;width:85.5px;color:#287a28">2%</div>
<div class="t" style="left:540.5px;top:612.58px;width:69.9px;color:#9c1528">0%</div>
<div class="t k" style="left:402.0px;top:639.38px;width:53.0px">1966</div>
<div class="t" style="left:455.0px;top:639.38px;width:85.5px;color:#287a28">1%</div>
<div class="t" style="left:540.5px;top:639.38px;width:69.9px;color:#9c1528">-2%</div>
<div class="t k" style="left:402.0px;top:666.18px;width:53.0px">1967</div>
<div class="t" style="left:455.0px;top:666.18px;width:85.5px;color:#287a28">2%</div>
<div class="t" style="left:540.5px;top:666.18px;width:69.9px;color:#9c1528">-1%</div>
<div class="t k" style="left:402.0px;top:692.98px;width:53.0px">1968</div>
<div class="t" style="left:455.0px;top:692.98px;width:85.5px;color:#287a28">4%</div>
<div class="t" style="left:540.5px;top:692.98px;width:69.9px;color:#9c1528">-1%</div>
<div class="t k" style="left:402.0px;top:719.78px;width:53.0px">1969</div>
<div class="t" style="left:455.0px;top:719.78px;width:85.5px;color:#287a28">7%</div>
<div class="t" style="left:540.5px;top:719.78px;width:69.9px;color:#287a28">1%</div>
<div class="t k" style="left:402.0px;top:746.58px;width:53.0px">1970</div>
<div class="t" style="left:455.0px;top:746.58px;width:85.5px;color:#287a28">8%</div>
<div class="t" style="left:540.5px;top:746.58px;width:69.9px;color:#287a28">3%</div>
<div class="t k" style="left:402.0px;top:773.38px;width:53.0px">1971</div>
<div class="t" style="left:455.0px;top:773.38px;width:85.5px;color:#287a28">4%</div>
<div class="t" style="left:540.5px;top:773.38px;width:69.9px;color:#287a28">1%</div>
<div class="t k" style="left:612.1px;top:49.53px;width:53.4px">Year</div>
<div class="t k" style="left:665.5px;top:49.53px;width:85.0px">Nominal</div>
<div class="t k" style="left:750.5px;top:49.53px;width:56.3px">Real</div>
<div class="t k" style="left:612.1px;top:76.58px;width:53.4px">1972</div>
<div class="t" style="left:665.5px;top:76.58px;width:85.0px;color:#287a28">3%</div>
<div class="t" style="left:750.5px;top:76.58px;width:56.3px;color:#9c1528">0%</div>
<div class="t k" style="left:612.1px;top:103.38px;width:53.4px">1973</div>
<div class="t" style="left:665.5px;top:103.38px;width:85.0px;color:#287a28">3%</div>
<div class="t" style="left:750.5px;top:103.38px;width:56.3px;color:#9c1528">-5%</div>
<div class="t k" style="left:612.1px;top:130.18px;width:53.4px">1974</div>
<div class="t" style="left:665.5px;top:130.18px;width:85.0px;color:#287a28">10%</div>
<div class="t" style="left:750.5px;top:130.18px;width:56.3px;color:#9c1528">-2%</div>
<div class="t k" style="left:612.1px;top:156.98px;width:53.4px">1975</div>
<div class="t" style="left:665.5px;top:156.98px;width:85.0px;color:#287a28">7%</div>
<div class="t" style="left:750.5px;top:156.98px;width:56.3px;color:#9c1528">0%</div>
<div class="t k" style="left:612.1px;top:183.78px;width:53.4px">1976</div>
<div class="t" style="left:665.5px;top:183.78px;width:85.0px;color:#287a28">8%</div>
<div class="t" style="left:750.5px;top:183.78px;width:56.3px;color:#287a28">3%</div>
<div class="t k" style="left:612.1px;top:210.58px;width:53.4px">1977</div>
<div class="t" style="left:665.5px;top:210.58px;width:85.0px;color:#287a28">15%</div>
<div class="t" style="left:750.5px;top:210.58px;width:56.3px;color:#287a28">8%</div>
<div class="t k" style="left:612.1px;top:237.38px;width:53.4px">1978</div>
<div class="t" style="left:665.5px;top:237.38px;width:85.0px;color:#287a28">16%</div>
<div class="t" style="left:750.5px;top:237.38px;width:56.3px;color:#287a28">7%</div>
<div class="t k" style="left:612.1px;top:264.18px;width:53.4px">1979</div>
<div class="t" style="left:665.5px;top:264.18px;width:85.0px;color:#287a28">14%</div>
<div class="t" style="left:750.5px;top:264.18px;width:56.3px;color:#287a28">0%</div>
<div class="t k" style="left:612.1px;top:290.98px;width:53.4px">1980</div>
<div class="t" style="left:665.5px;top:290.98px;width:85.0px;color:#287a28">7%</div>
<div class="t" style="left:750.5px;top:290.98px;width:56.3px;color:#9c1528">-5%</div>
<div class="t k" style="left:612.1px;top:317.78px;width:53.4px">1981</div>
<div class="t" style="left:665.5px;top:317.78px;width:85.0px;color:#287a28">5%</div>
<div class="t" style="left:750.5px;top:317.78px;width:56.3px;color:#9c1528">-4%</div>
<div class="t k" style="left:612.1px;top:344.58px;width:53.4px">1982</div>
<div class="t" style="left:665.5px;top:344.58px;width:85.0px;color:#287a28">1%</div>
<div class="t" style="left:750.5px;top:344.58px;width:56.3px;color:#9c1528">-3%</div>
<div class="t k" style="left:612.1px;top:371.38px;width:53.4px">1983</div>
<div class="t" style="left:665.5px;top:371.38px;width:85.0px;color:#287a28">5%</div>
<div class="t" style="left:750.5px;top:371.38px;width:56.3px;color:#287a28">1%</div>
<div class="t k" style="left:612.1px;top:398.18px;width:53.4px">1984</div>
<div class="t" style="left:665.5px;top:398.18px;width:85.0px;color:#287a28">5%</div>
<div class="t" style="left:750.5px;top:398.18px;width:56.3px;color:#287a28">1%</div>
<div class="t k" style="left:612.1px;top:424.98px;width:53.4px">1985</div>
<div class="t" style="left:665.5px;top:424.98px;width:85.0px;color:#287a28">7%</div>
<div class="t" style="left:750.5px;top:424.98px;width:56.3px;color:#287a28">4%</div>
<div class="t k" style="left:612.1px;top:451.78px;width:53.4px">1986</div>
<div class="t" style="left:665.5px;top:451.78px;width:85.0px;color:#287a28">10%</div>
<div class="t" style="left:750.5px;top:451.78px;width:56.3px;color:#287a28">9%</div>
<div class="t k" style="left:612.1px;top:478.58px;width:53.4px">1987</div>
<div class="t" style="left:665.5px;top:478.58px;width:85.0px;color:#287a28">8%</div>
<div class="t" style="left:750.5px;top:478.58px;width:56.3px;color:#287a28">3%</div>
<div class="t k" style="left:612.1px;top:505.38px;width:53.4px">1988</div>
<div class="t" style="left:665.5px;top:505.38px;width:85.0px;color:#287a28">7%</div>
<div class="t" style="left:750.5px;top:505.38px;width:56.3px;color:#287a28">3%</div>
<div class="t k" style="left:612.1px;top:532.18px;width:53.4px">1989</div>
<div class="t" style="left:665.5px;top:532.18px;width:85.0px;color:#287a28">4%</div>
<div class="t" style="left:750.5px;top:532.18px;width:56.3px;color:#9c1528">0%</div>
<div class="t k" style="left:612.1px;top:558.98px;width:53.4px">1990</div>
<div class="t" style="left:665.5px;top:558.98px;width:85.0px;color:#9c1528">-1%</div>
<div class="t" style="left:750.5px;top:558.98px;width:56.3px;color:#9c1528">-7%</div>
<div class="t k" style="left:612.1px;top:585.78px;width:53.4px">1991</div>
<div class="t" style="left:665.5px;top:585.78px;width:85.0px;color:#9c1528">0%</div>
<div class="t" style="left:750.5px;top:585.78px;width:56.3px;color:#9c1528">-3%</div>
<div class="t k" style="left:612.1px;top:612.58px;width:53.4px">1992</div>
<div class="t" style="left:665.5px;top:612.58px;width:85.0px;color:#287a28">1%</div>
<div class="t" style="left:750.5px;top:612.58px;width:56.3px;color:#9c1528">-2%</div>
<div class="t k" style="left:612.1px;top:639.38px;width:53.4px">1993</div>
<div class="t" style="left:665.5px;top:639.38px;width:85.0px;color:#287a28">2%</div>
<div class="t" style="left:750.5px;top:639.38px;width:56.3px;color:#9c1528">-1%</div>
<div class="t k" style="left:612.1px;top:666.18px;width:53.4px">1994</div>
<div class="t" style="left:665.5px;top:666.18px;width:85.0px;color:#287a28">3%</div>
<div class="t" style="left:750.5px;top:666.18px;width:56.3px;color:#9c1528">0%</div>
<div class="t k" style="left:612.1px;top:692.98px;width:53.4px">1995</div>
<div class="t" style="left:665.5px;top:692.98px;width:85.0px;color:#287a28">2%</div>
<div class="t" style="left:750.5px;top:692.98px;width:56.3px;color:#9c1528">-1%</div>
<div class="t k" style="left:612.1px;top:719.78px;width:53.4px">1996</div>
<div class="t" style="left:665.5px;top:719.78px;width:85.0px;color:#287a28">2%</div>
<div class="t" style="left:750.5px;top:719.78px;width:56.3px;color:#9c1528">-1%</div>
<div class="t k" style="left:612.1px;top:746.58px;width:53.4px">1997</div>
<div class="t" style="left:665.5px;top:746.58px;width:85.0px;color:#287a28">4%</div>
<div class="t" style="left:750.5px;top:746.58px;width:56.3px;color:#287a28">2%</div>
<div class="t k" style="left:612.1px;top:773.38px;width:53.4px">1998</div>
<div class="t" style="left:665.5px;top:773.38px;width:85.0px;color:#287a28">6%</div>
<div class="t" style="left:750.5px;top:773.38px;width:56.3px;color:#287a28">5%</div>
<div class="t k" style="left:808.2px;top:49.53px;width:53.5px">Year</div>
<div class="t k" style="left:861.7px;top:49.53px;width:85.0px">Nominal</div>
<div class="t k" style="left:948.7px;top:49.53px;width:62.3px">Real</div>
<div class="t k" style="left:808.2px;top:76.58px;width:53.5px">1999</div>
<div class="t" style="left:861.7px;top:76.58px;width:85.0px;color:#287a28">8%</div>
<div class="t" style="left:946.7px;top:76.58px;width:63.3px;color:#287a28">5%</div>
<div class="t k" style="left:808.2px;top:103.38px;width:53.5px">2000</div>
<div class="t" style="left:861.7px;top:103.38px;width:85.0px;color:#287a28">9%</div>
<div class="t" style="left:946.7px;top:103.38px;width:63.3px;color:#287a28">6%</div>
<div class="t k" style="left:808.2px;top:130.18px;width:53.5px">2001</div>
<div class="t" style="left:861.7px;top:130.18px;width:85.0px;color:#287a28">7%</div>
<div class="t" style="left:946.7px;top:130.18px;width:63.3px;color:#287a28">5%</div>
<div class="t k" style="left:808.2px;top:156.98px;width:53.5px">2002</div>
<div class="t" style="left:861.7px;top:156.98px;width:85.0px;color:#287a28">10%</div>
<div class="t" style="left:946.7px;top:156.98px;width:63.3px;color:#287a28">7%</div>
<div class="t k" style="left:808.2px;top:183.78px;width:53.5px">2003</div>
<div class="t" style="left:861.7px;top:183.78px;width:85.0px;color:#287a28">10%</div>
<div class="t" style="left:946.7px;top:183.78px;width:63.3px;color:#287a28">8%</div>
<div class="t k" style="left:808.2px;top:210.58px;width:53.5px">2004</div>
<div class="t" style="left:861.7px;top:210.58px;width:85.0px;color:#287a28">14%</div>
<div class="t" style="left:946.7px;top:210.58px;width:63.3px;color:#287a28">10%</div>
<div class="t k" style="left:808.2px;top:237.38px;width:53.5px">2005</div>
<div class="t" style="left:861.7px;top:237.38px;width:85.0px;color:#287a28">14%</div>
<div class="t" style="left:946.7px;top:237.38px;width:63.3px;color:#287a28">10%</div>
<div class="t k" style="left:808.2px;top:264.18px;width:53.5px">2006</div>
<div class="t" style="left:861.7px;top:264.18px;width:85.0px;color:#287a28">2%</div>
<div class="t" style="left:946.7px;top:264.18px;width:63.3px;color:#9c1528">-1%</div>
<div class="t k" style="left:808.2px;top:290.98px;width:53.5px">2007</div>
<div class="t" style="left:861.7px;top:290.98px;width:85.0px;color:#9c1528">-5%</div>
<div class="t" style="left:946.7px;top:290.98px;width:63.3px;color:#9c1528">-9%</div>
<div class="t k" style="left:808.2px;top:317.78px;width:53.5px">2008</div>
<div class="t" style="left:861.7px;top:317.78px;width:85.0px;color:#9c1528">-12%</div>
<div class="t" style="left:946.7px;top:317.78px;width:63.3px;color:#9c1528">-12%</div>
<div class="t k" style="left:808.2px;top:344.58px;width:53.5px">2009</div>
<div class="t" style="left:861.7px;top:344.58px;width:85.0px;color:#9c1528">-4%</div>
<div class="t" style="left:946.7px;top:344.58px;width:63.3px;color:#9c1528">-7%</div>
<div class="t k" style="left:808.2px;top:371.38px;width:53.5px">2010</div>
<div class="t" style="left:861.7px;top:371.38px;width:85.0px;color:#9c1528">-4%</div>
<div class="t" style="left:946.7px;top:371.38px;width:63.3px;color:#9c1528">-6%</div>
<div class="t k" style="left:808.2px;top:398.18px;width:53.5px">2011</div>
<div class="t" style="left:861.7px;top:398.18px;width:85.0px;color:#9c1528">-4%</div>
<div class="t" style="left:946.7px;top:398.18px;width:63.3px;color:#9c1528">-7%</div>
<div class="t k" style="left:808.2px;top:424.98px;width:53.5px">2012</div>
<div class="t" style="left:861.7px;top:424.98px;width:85.0px;color:#287a28">6%</div>
<div class="t" style="left:946.7px;top:424.98px;width:63.3px;color:#287a28">5%</div>
<div class="t k" style="left:808.2px;top:451.78px;width:53.5px">2013</div>
<div class="t" style="left:861.7px;top:451.78px;width:85.0px;color:#287a28">11%</div>
<div class="t" style="left:946.7px;top:451.78px;width:63.3px;color:#287a28">9%</div>
<div class="t k" style="left:808.2px;top:478.58px;width:53.5px">2014</div>
<div class="t" style="left:861.7px;top:478.58px;width:85.0px;color:#287a28">5%</div>
<div class="t" style="left:946.7px;top:478.58px;width:63.3px;color:#287a28">4%</div>
<div class="t k" style="left:808.2px;top:505.38px;width:53.5px">2015</div>
<div class="t" style="left:861.7px;top:505.38px;width:85.0px;color:#287a28">5%</div>
<div class="t" style="left:946.7px;top:505.38px;width:63.3px;color:#287a28">4%</div>
<div class="t k" style="left:808.2px;top:532.18px;width:53.5px">2016</div>
<div class="t" style="left:861.7px;top:532.18px;width:85.0px;color:#287a28">5%</div>
<div class="t" style="left:946.7px;top:532.18px;width:63.3px;color:#287a28">3%</div>
<div class="t k" style="left:808.2px;top:558.98px;width:53.5px">2017</div>
<div class="t" style="left:861.7px;top:558.98px;width:85.0px;color:#287a28">6%</div>
<div class="t" style="left:946.7px;top:558.98px;width:63.3px;color:#287a28">4%</div>
<div class="t k" style="left:808.2px;top:585.78px;width:53.5px">2018</div>
<div class="t" style="left:861.7px;top:585.78px;width:85.0px;color:#287a28">5%</div>
<div class="t" style="left:946.7px;top:585.78px;width:63.3px;color:#287a28">3%</div>
<div class="t k" style="left:808.2px;top:612.58px;width:53.5px">2019</div>
<div class="t" style="left:861.7px;top:612.58px;width:85.0px;color:#287a28">4%</div>
<div class="t" style="left:946.7px;top:612.58px;width:63.3px;color:#287a28">1%</div>
<div class="t k" style="left:808.2px;top:639.38px;width:53.5px">2020</div>
<div class="t" style="left:861.7px;top:639.38px;width:85.0px;color:#287a28">10%</div>
<div class="t" style="left:946.7px;top:639.38px;width:63.3px;color:#287a28">9%</div>
<div class="t k" style="left:808.2px;top:666.18px;width:53.5px">2021</div>
<div class="t" style="left:861.7px;top:666.18px;width:85.0px;color:#287a28">19%</div>
<div class="t" style="left:946.7px;top:666.18px;width:63.3px;color:#287a28">12%</div>
<div class="t k" style="left:808.2px;top:692.98px;width:53.5px">2022</div>
<div class="t" style="left:861.7px;top:692.98px;width:85.0px;color:#287a28">6%</div>
<div class="t" style="left:946.7px;top:692.98px;width:63.3px;color:#9c1528">-1%</div>
<div class="t k" style="left:808.2px;top:719.78px;width:53.5px">2023</div>
<div class="t" style="left:861.7px;top:719.78px;width:85.0px;color:#287a28">6%</div>
<div class="t" style="left:946.7px;top:719.78px;width:63.3px;color:#287a28">2%</div>
<div class="t k" style="left:808.2px;top:746.58px;width:53.5px">2024</div>
<div class="t" style="left:861.7px;top:746.58px;width:85.0px;color:#287a28">4%</div>
<div class="t" style="left:946.7px;top:746.58px;width:63.3px;color:#287a28">1%</div>
<div class="t k" style="left:808.2px;top:773.38px;width:53.5px">2025</div>
<div class="t" style="left:861.7px;top:773.38px;width:85.0px;color:#287a28">1%</div>
<div class="t" style="left:946.7px;top:773.38px;width:63.3px;color:#9c1528">-1%</div>
<div class="b" style="left:8px;top:7px;width:1004px;height:1px;background:rgba(30,30,30,0.30)"></div>
<div class="b" style="left:8px;top:8px;width:1004px;height:1px;background:#1e1e1e"></div>
<div class="b" style="left:9px;top:43px;width:1002px;height:1px;background:rgba(30,30,30,0.10)"></div>
<div class="b" style="left:9px;top:44px;width:1002px;height:1px;background:#1e1e1e"></div>
<div class="b" style="left:9px;top:45px;width:1002px;height:1px;background:rgba(30,30,30,0.76)"></div>
<div class="b" style="left:9px;top:70px;width:1002px;height:1px;background:rgba(30,30,30,0.10)"></div>
<div class="b" style="left:9px;top:71px;width:1002px;height:1px;background:#1e1e1e"></div>
<div class="b" style="left:9px;top:72px;width:1002px;height:1px;background:rgba(30,30,30,0.80)"></div>
<div class="b" style="left:9px;top:795px;width:1002px;height:1px;background:#1e1e1e"></div>
<div class="b" style="left:9px;top:796px;width:1002px;height:1px;background:rgba(30,30,30,0.70)"></div>
<div class="b" style="left:8px;top:848px;width:1004px;height:1px;background:rgba(30,30,30,0.10)"></div>
<div class="b" style="left:8px;top:849px;width:1004px;height:1px;background:#1e1e1e"></div>
<div class="b" style="left:8px;top:850px;width:1004px;height:1px;background:rgba(30,30,30,0.80)"></div>
<div class="b" style="left:8px;top:7px;width:1px;height:844px;background:#1e1e1e"></div>
<div class="b" style="left:9px;top:7px;width:1px;height:844px;background:rgba(30,30,30,0.60)"></div>
<div class="b" style="left:1010px;top:7px;width:1px;height:844px;background:#1e1e1e"></div>
<div class="b" style="left:1011px;top:7px;width:1px;height:844px;background:rgba(30,30,30,0.85)"></div>
<div class="b" style="left:202px;top:46px;width:1px;height:749px;background:rgba(30,30,30,0.33)"></div>
<div class="b" style="left:203px;top:46px;width:1px;height:749px;background:#1e1e1e"></div>
<div class="b" style="left:204px;top:46px;width:1px;height:749px;background:rgba(30,30,30,0.80)"></div>
<div class="b" style="left:400px;top:46px;width:1px;height:749px;background:#1e1e1e"></div>
<div class="b" style="left:401px;top:46px;width:1px;height:749px;background:#1e1e1e"></div>
<div class="b" style="left:610px;top:46px;width:1px;height:749px;background:rgba(30,30,30,0.60)"></div>
<div class="b" style="left:611px;top:46px;width:1px;height:749px;background:#1e1e1e"></div>
<div class="b" style="left:612px;top:46px;width:1px;height:749px;background:rgba(30,30,30,0.10)"></div>
<div class="b" style="left:806px;top:46px;width:1px;height:749px;background:rgba(30,30,30,0.20)"></div>
<div class="b" style="left:807px;top:46px;width:1px;height:749px;background:#1e1e1e"></div>
<div class="b" style="left:808px;top:46px;width:1px;height:749px;background:rgba(30,30,30,0.20)"></div>
<svg class="b" style="left:0;top:790px" width="60" height="60" viewBox="0 790 60 60">
<path d="M44.5,812.7 A13.3,13.3 0 1 0 44.5,832.5 Q44.2,831.0 41.6,829.0 L35.6,832.2 L25.9,822.9 L35.6,813.6 L41.6,816.6 Q44.2,814.5 44.5,812.7 Z" fill="#2c5b7d"/>
<polygon points="29.3,822.9 35.6,816.7 41.9,822.9 35.6,829.1" fill="#c9b58d"/>
</svg>
<div class="ft" id="cp1" style="left:55px;top:811.3px;font-family:'DejaVu Sans',sans-serif;font-weight:bold;font-size:17px;color:#2f5f80;letter-spacing:1.1px">CREATIVE</div>
<div class="ft" id="cp2" style="left:164.8px;top:811.3px;font-family:'DejaVu Sans',sans-serif;font-weight:bold;font-size:17px;color:#2f5f80;letter-spacing:1.36px">PLANNING</div>
<div class="ft" style="left:273px;top:812.5px;font-size:6px;line-height:10px;height:10px;color:#2f5f80">&#174;</div>
<div class="ft" id="ds" style="left:319.5px;top:810.2px;font-weight:bold;font-size:21.1px;color:#111;transform:scaleY(1.06);transform-origin:0 19px">Data Sources: S&amp;P/Case-Shiller, BLS</div>
<div class="ft" id="cb" style="left:804.2px;top:809.5px;font-style:italic;font-size:22.3px;color:#111;-webkit-text-stroke:0.75px #111;letter-spacing:0.3px;transform:scaleY(1.05);transform-origin:0 19px"><span style="font-size:18.5px;letter-spacing:0;position:relative;top:-2.5px">@</span>CharlieBilello</div>
</div>
</body></html>
